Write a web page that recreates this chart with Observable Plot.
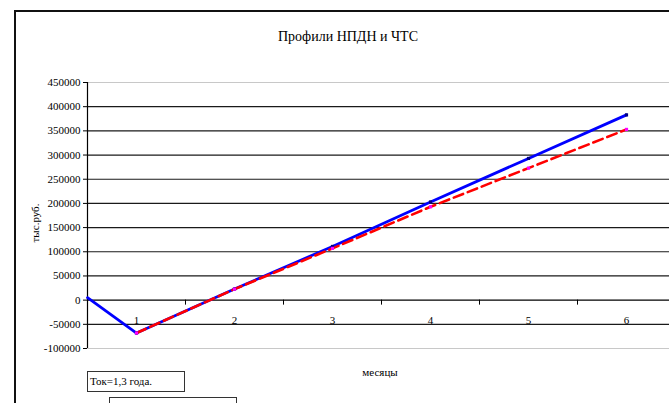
<!DOCTYPE html>
<html><head><meta charset="utf-8">
<script src="https://cdn.jsdelivr.net/npm/d3@7"></script>
<script src="https://cdn.jsdelivr.net/npm/@observablehq/plot@0.6"></script>
<style>
body{margin:0;background:#fff;}
#wrap{position:relative;width:669px;height:403px;overflow:hidden;background:#fff;font-family:"Liberation Serif","Times New Roman",serif;color:#000;}
#chart{position:absolute;left:0;top:0;}
.border{position:absolute;left:14px;top:10px;width:720px;height:520px;border-left:2px solid #111;border-top:2px solid #111;}
.title{position:absolute;left:248px;top:28px;width:200px;text-align:center;font-size:14px;line-height:18px;white-space:nowrap;}
.ytitle{position:absolute;left:35px;top:223px;font-size:11px;white-space:nowrap;transform:translate(-50%,-50%) rotate(-90deg);}
.xtitle{position:absolute;left:380px;top:372px;font-size:11px;white-space:nowrap;transform:translate(-50%,-50%);}
.box{position:absolute;border:1px solid #333;font-size:11px;line-height:18px;padding-left:2px;box-sizing:border-box;background:#fff;}
</style>
</head><body>
<div id="wrap">
  <div class="border"></div>
  <div id="chart"></div>
  <div class="title">Профили НПДН и ЧТС</div>
  <div class="ytitle">тыс.руб.</div>
  <div class="xtitle">месяцы</div>
  <div class="box" style="left:87px;top:371px;width:98px;height:21px;">Ток=1,3 года.</div>
  <div class="box" style="left:109px;top:397px;width:128px;height:20px;"></div>
</div>
<script>
const months = [1, 2, 3, 4, 5, 6];
const npdnStart = 0.5;        // left edge start of blue profile
const npdnStartValue = 5000;
const npdn = [-68000, 23000, 111000, 203000, 293000, 383000];
const chts = [-68000, 22700, 107000, 193000, 273000, 353000];
const yTicks = [-100000, -50000, 0, 50000, 100000, 150000, 200000, 250000, 300000, 350000, 400000, 450000];
const gridValues = [-50000, 50000, 100000, 150000, 200000, 250000, 300000, 350000, 400000];
const binEdges = [1.5, 2.5, 3.5, 4.5, 5.5];

const blue = [{m: npdnStart, v: npdnStartValue}, ...months.map((m, i) => ({m, v: npdn[i]}))];
const red = months.map((m, i) => ({m, v: chts[i]}));
const blueMarks = months.map((m, i) => ({m, v: npdn[i]}));

const font = "'Liberation Serif', 'Times New Roman', serif";

const plot = Plot.plot({
  width: 669,
  height: 403,
  marginLeft: 87,
  marginRight: -6,
  marginTop: 82,
  marginBottom: 55,
  style: {background: "transparent", fontFamily: font, fontSize: "11px", color: "#000"},
  x: {type: "linear", domain: [0.5, 6.5], axis: null},
  y: {domain: [-100000, 450000], axis: null},
  marks: [
    Plot.frame({stroke: "#c8c8c8", strokeWidth: 1}),
    Plot.ruleY(gridValues, {stroke: "#1a1a1a", strokeWidth: 1.2}),
    Plot.ruleY([0], {stroke: "#000", strokeWidth: 1.2}),
    Plot.ruleX([0.5], {stroke: "#000", strokeWidth: 1.2}),
    Plot.ruleX(binEdges, {y1: () => 0, y2: () => 0, insetBottom: -5, stroke: "#000", strokeWidth: 1}),
    Plot.axisY({ticks: yTicks, tickFormat: d => String(d), label: null, tickSize: 4, tickPadding: 3, fontSize: 11, fontFamily: font, stroke: "#000"}),
    Plot.text(months, {x: d => d, y: () => 0, text: d => String(d), dy: 20, fontSize: 11, fontFamily: font, fill: "#000"}),
    Plot.line(blue, {x: "m", y: "v", stroke: "#0000ff", strokeWidth: 2.8}),
    Plot.line(red, {x: "m", y: "v", stroke: "#ff0000", strokeWidth: 2.6, strokeDasharray: "10,5"}),
    Plot.dot(blueMarks, {x: "m", y: "v", symbol: "square", r: 1.8, fill: "#000080"}),
    Plot.dot(red, {x: "m", y: "v", symbol: "square", r: 1.8, fill: "#ff00ff"})
  ]
});
document.getElementById("chart").appendChild(plot);
</script>
</body></html>
